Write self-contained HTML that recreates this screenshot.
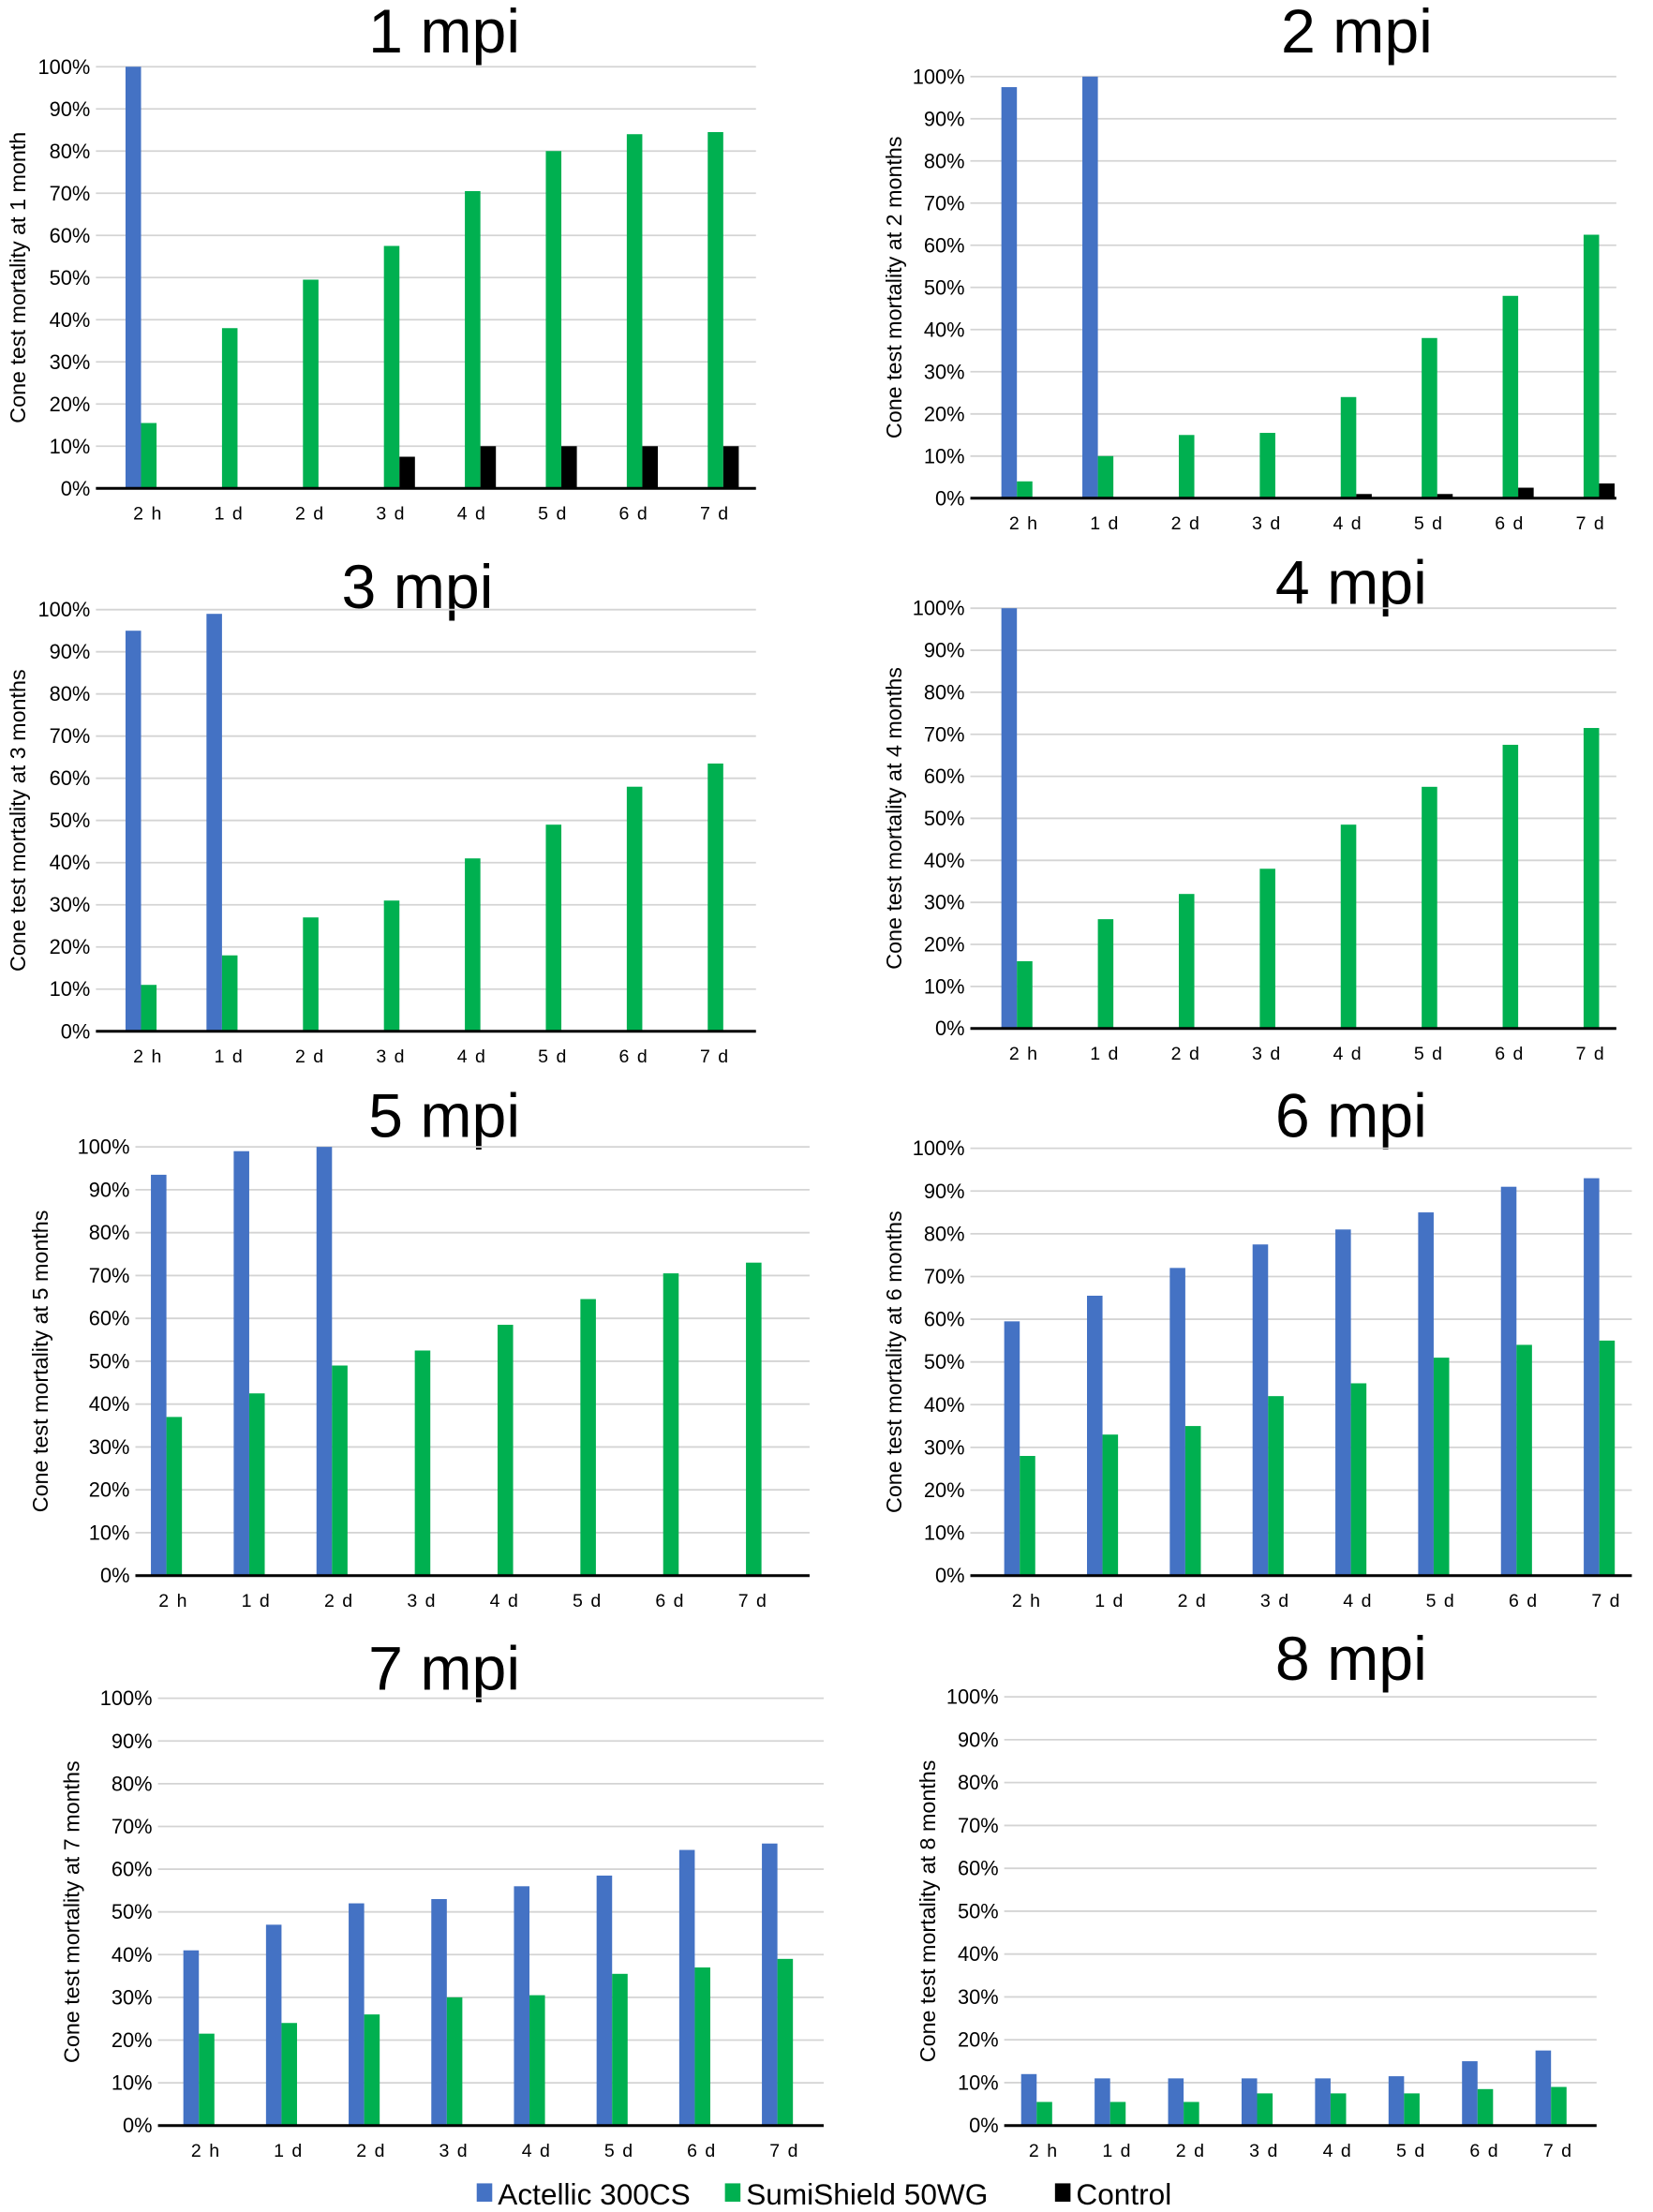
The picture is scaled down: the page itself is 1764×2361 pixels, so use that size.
<!DOCTYPE html>
<html><head><meta charset="utf-8"><style>
html,body{margin:0;padding:0;background:#fff;}
svg{display:block;}
text{font-family:"Liberation Sans","DejaVu Sans",sans-serif;}
</style></head><body>
<svg id="s" width="1764" height="2361" viewBox="0 0 1172 1568" xmlns="http://www.w3.org/2000/svg">
<rect width="1172" height="1568" fill="#fff"/>
<g font-size="44" text-anchor="middle" fill="#000">
<text x="315" y="37">1 mpi</text>
<text x="962" y="37">2 mpi</text>
<text x="296" y="431">3 mpi</text>
<text x="958" y="428">4 mpi</text>
<text x="315" y="806">5 mpi</text>
<text x="958" y="806">6 mpi</text>
<text x="315" y="1198">7 mpi</text>
<text x="958" y="1191">8 mpi</text>
</g>
<g font-size="21" fill="#000">
<rect x="338" y="1548" width="11" height="13" fill="#4472C4"/><text x="353" y="1563">Actellic 300CS</text>
<rect x="514" y="1548" width="11" height="13" fill="#00B050"/><text x="529" y="1563">SumiShield 50WG</text>
<rect x="748" y="1548" width="11" height="13" fill="#000"/><text x="763" y="1563">Control</text>
</g>
<g id="charts"></g>
</svg>
<script>
var P=[
{l:68,r:536,y0:346,y1:47,c0:105,dc:57.4,yl:14,lab:"Cone test mortality at 1 month",
b:[100,0,0,0,0,0,0,0],g:[15.5,38,49.5,57.5,70.5,80,84,84.5],k:[0,0,0,7.5,10,10,10,10]},
{l:688,r:1146,y0:353,y1:54,c0:726,dc:57.4,yl:635,lab:"Cone test mortality at 2 months",
b:[97.5,100,0,0,0,0,0,0],g:[4,10,15,15.5,24,38,48,62.5],k:[0,0,0,0,1,1,2.5,3.5]},
{l:68,r:536,y0:731,y1:432,c0:105,dc:57.4,yl:14,lab:"Cone test mortality at 3 months",
b:[95,99,0,0,0,0,0,0],g:[11,18,27,31,41,49,58,63.5],k:[0,0,0,0,0,0,0,0]},
{l:688,r:1146,y0:729,y1:431,c0:726,dc:57.4,yl:635,lab:"Cone test mortality at 4 months",
b:[100,0,0,0,0,0,0,0],g:[16,26,32,38,48.5,57.5,67.5,71.5],k:[0,0,0,0,0,0,0,0]},
{l:96,r:574,y0:1117,y1:813,c0:123,dc:58.7,yl:30,lab:"Cone test mortality at 5 months",
b:[93.5,99,100,0,0,0,0,0],g:[37,42.5,49,52.5,58.5,64.5,70.5,73],k:[0,0,0,0,0,0,0,0]},
{l:688,r:1157,y0:1117,y1:814,c0:728,dc:58.7,yl:635,lab:"Cone test mortality at 6 months",
b:[59.5,65.5,72,77.5,81,85,91,93],g:[28,33,35,42,45,51,54,55],k:[0,0,0,0,0,0,0,0]},
{l:112,r:584,y0:1507,y1:1204,c0:146,dc:58.6,yl:52,lab:"Cone test mortality at 7 months",
b:[41,47,52,53,56,58.5,64.5,66],g:[21.5,24,26,30,30.5,35.5,37,39],k:[0,0,0,0,0,0,0,0]},
{l:712,r:1132,y0:1507,y1:1203,c0:740,dc:52.1,yl:659,lab:"Cone test mortality at 8 months",
b:[12,11,11,11,11,11.5,15,17.5],g:[5.5,5.5,5.5,7.5,7.5,7.5,8.5,9],k:[0,0,0,0,0,0,0,0]}
];
var X=["2 h","1 d","2 d","3 d","4 d","5 d","6 d","7 d"];
var h="";
P.forEach(function(p){
 var H=p.y0-p.y1;
 for(var i=0;i<=10;i++){var y=p.y0-H*i/10;
  if(i>0)h+='<line x1="'+p.l+'" x2="'+p.r+'" y1="'+y+'" y2="'+y+'" stroke="#d4d4d4" stroke-width="1.2"/>';
  h+='<text x="'+(p.l-4)+'" y="'+(y+5)+'" font-size="14.5" text-anchor="end">'+(i*10)+'%</text>';}
 var w=11;
 for(var j=0;j<8;j++){var c=p.c0+p.dc*j;
  [[p.b[j],"#4472C4",-16],[p.g[j],"#00B050",-5],[p.k[j],"#000",6]].forEach(function(s){
   if(s[0]>0){var bh=H*s[0]/100;h+='<rect x="'+(c+s[2])+'" y="'+(p.y0-bh)+'" width="'+w+'" height="'+bh+'" fill="'+s[1]+'"/>';}});
  h+='<text x="'+c+'" y="'+(p.y0+22)+'" font-size="13" text-anchor="middle" letter-spacing="1">'+X[j]+'</text>';}
 h+='<line x1="'+p.l+'" x2="'+p.r+'" y1="'+p.y0+'" y2="'+p.y0+'" stroke="#000" stroke-width="2"/>';
 var cy=(p.y0+p.y1)/2;
 h+='<text transform="translate('+(p.yl+4)+','+cy+') rotate(-90)" font-size="15.5" text-anchor="middle">'+p.lab+'</text>';
});
document.getElementById("charts").innerHTML=h;
</script>
</body></html>
